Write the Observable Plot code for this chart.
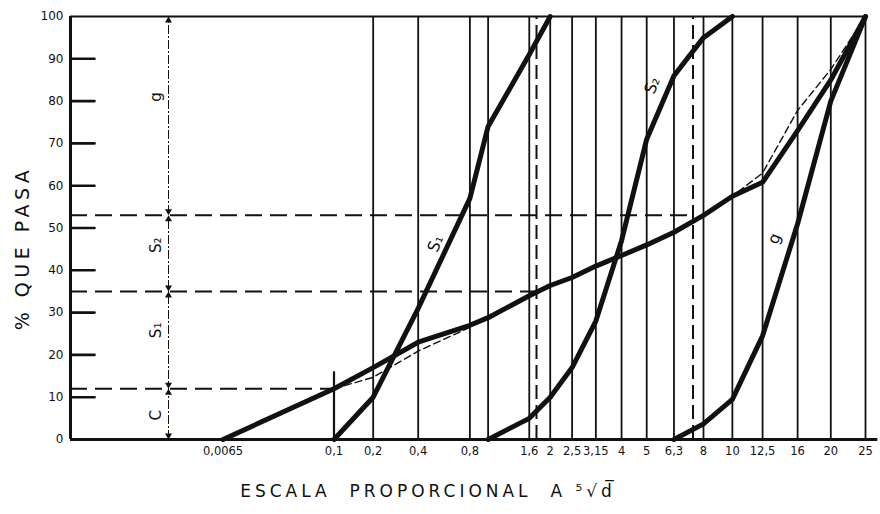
<!DOCTYPE html>
<html><head><meta charset="utf-8">
<script src="https://cdn.jsdelivr.net/npm/d3@7"></script>
<script src="https://cdn.jsdelivr.net/npm/@observablehq/plot@0.6"></script>
<style>
html,body{margin:0;padding:0;background:#fff;}
#chart svg{display:block;}
</style>
</head><body><div id="chart"></div>
<script>
// X ticks (sieve openings, mm) on a fifth-root scale
const tickD = [0.0065, 0.1, 0.2, 0.4, 0.8, 1.6, 2, 2.5, 3.15, 4, 5, 6.3, 8, 10, 12.5, 16, 20, 25];
const tickLabels = ["0,0065","0,1","0,2","0,4","0,8","1,6","2","2,5","3,15","4","5","6,3","8","10","12,5","16","20","25"];
const gridD = [0.2, 0.4, 0.8, 1, 1.6, 2, 2.5, 3.15, 4, 5, 6.3, 8, 10, 12.5, 16, 20, 25];
const shortGridD = [0.1];
const shortGridTop = 16;
const yTicks = [0, 10, 20, 30, 40, 50, 60, 70, 80, 90, 100];
const yInnerTicks = [10, 20, 30, 40, 50, 60, 70, 80, 90];

// Fraction curves (% passing)
const s1D = [0.1, 0.2, 0.4, 0.8, 1, 1.6, 2];
const s1P = [0, 10, 31, 57, 74, 91, 100];
const s2D = [1, 1.6, 2, 2.5, 3.15, 4, 5, 6.3, 8, 10];
const s2P = [0, 5, 10, 17, 28, 47, 71, 86, 95, 100];
const gD = [6.3, 8, 10, 12.5, 16, 20, 25];
const gP = [0, 3.7, 9.5, 24.5, 51, 80, 100];

// Combined (mixture) curve
const mixD = [0.0065, 0.1, 0.2, 0.4, 0.8, 1, 1.6, 2, 2.5, 3.15, 4, 5, 6.3, 8, 10, 12.5, 16, 20, 25];
const mixP = [0, 12, 17, 23, 27, 28.8, 34, 36.4, 38.3, 41, 43.5, 46, 49, 53, 57.5, 60.8, 73, 85, 100];

// Reference (target) curve, thin dashed
const refD = [0.1, 0.2, 0.4, 0.8, 1, 1.6, 2, 2.5, 3.15, 4, 5, 6.3, 8, 10, 12.5, 16, 20, 25];
const refP = [12, 14.7, 20.9, 26.5, 28.8, 34, 36.4, 38.3, 41, 43.5, 46, 49, 53, 57.5, 63, 77.8, 87.5, 100];

// Fraction split
const fracNames = ["C", "S\u2081", "S\u2082", "g"];
const fracBounds = [0, 12, 35, 53, 100];
const fracLabelP = [5.7, 25.8, 45.9, 81];
const cutEndD = [0.1, 1.73, 7.36];   // where each horizontal dashed line stops
const cutVertD = [1.73, 7.36];       // vertical dashed lines

// Curve labels
const curveNames = ["S\u2081", "S\u2082", "g"];
const curveLabelD = [0.51, 5.25, 13.6];
const curveLabelP = [46.3, 83.7, 47.5];

const yTitle = "% QUE PASA";
const xTitle = "ESCALA\u00a0\u00a0PROPORCIONAL\u00a0\u00a0A\u00a0\u2075\u221ad\u0305";

const zip = (D, P) => D.map((d, i) => ({d, p: P[i]}));
const s1 = zip(s1D, s1P), s2 = zip(s2D, s2P), g = zip(gD, gP);
const mix = zip(mixD, mixP), ref = zip(refD, refP);
const hCuts = cutEndD.map((d, i) => ({d, p: fracBounds[i + 1]}));
const fracLabels = fracNames.map((n, i) => ({n, p: fracLabelP[i]}));
const curveLabels = curveNames.map((n, i) => ({n, d: curveLabelD[i], p: curveLabelP[i]}));
const labelOf = new Map(tickD.map((d, i) => [d, tickLabels[i]]));
const tipsDown = fracBounds.slice(0, -1);  // arrow tips pointing down (segment starts)
const tipsUp = fracBounds.slice(1);        // arrow tips pointing up (segment ends)

const tickRight = {draw(context, l) { context.moveTo(0, 0); context.lineTo(l, 0); }};

const ink = "#111";
const chart = Plot.plot({
  width: 880, height: 514,
  marginLeft: 70, marginRight: 15, marginTop: 16, marginBottom: 75,
  style: {fontFamily: "DejaVu Sans, sans-serif", background: "white", color: ink},
  x: {type: "pow", exponent: 0.2, domain: [0, 25]},
  y: {domain: [0, 100]},
  marks: [
    Plot.ruleX(gridD, {y1: 0, y2: 100, stroke: ink, strokeWidth: 1.8}),
    Plot.ruleX(shortGridD, {y1: 0, y2: shortGridTop, stroke: ink, strokeWidth: 2.2}),
    Plot.ruleX(cutVertD, {y1: 0, y2: 100, stroke: ink, strokeWidth: 2, strokeDasharray: "14,6"}),
    Plot.ruleY(hCuts, {y: "p", x1: 0, x2: "d", stroke: ink, strokeWidth: 2, strokeDasharray: "17,8"}),
    Plot.line(ref, {x: "d", y: "p", stroke: ink, strokeWidth: 1.4, strokeDasharray: "7,4"}),
    Plot.line(mix, {x: "d", y: "p", stroke: ink, strokeWidth: 5, strokeLinejoin: "round"}),
    Plot.line(s1, {x: "d", y: "p", stroke: ink, strokeWidth: 5, strokeLinejoin: "round"}),
    Plot.line(s2, {x: "d", y: "p", stroke: ink, strokeWidth: 5, strokeLinejoin: "round"}),
    Plot.line(g, {x: "d", y: "p", stroke: ink, strokeWidth: 5, strokeLinejoin: "round"}),
    Plot.ruleX([0], {y1: 0, y2: 100, stroke: ink, strokeWidth: 3}),
    Plot.ruleY([0], {x1: 0, x2: 27, stroke: ink, strokeWidth: 3}),
    Plot.ruleY([100], {x1: 0, x2: 25, stroke: ink, strokeWidth: 2}),
    Plot.vector(yInnerTicks, {x: 0, y: d => d, length: 24, rotate: 0, anchor: "start", shape: tickRight, stroke: ink, strokeWidth: 2.6}),
    Plot.axisY(yTicks, {tickSize: 0, tickPadding: 7, fontSize: 12, label: null}),
    Plot.axisX(tickD, {tickSize: 0, tickPadding: 7, fontSize: 11.5, label: null, tickFormat: d => labelOf.get(d)}),
    // dimension line with arrowheads
    Plot.ruleX([0], {y1: 0, y2: 100, dx: 98, stroke: ink, strokeWidth: 1, strokeDasharray: "9,2,2,2"}),
    Plot.dot(tipsDown, {x: 0, y: d => d, dx: 98, dy: -4, symbol: "triangle", rotate: 180, r: 2.6, fill: ink, stroke: "none"}),
    Plot.dot(tipsUp, {x: 0, y: d => d, dx: 98, dy: 4, symbol: "triangle", rotate: 0, r: 2.6, fill: ink, stroke: "none"}),
    Plot.text(fracLabels, {x: 0, y: "p", text: "n", dx: 86, rotate: -90, fontSize: 15}),
    Plot.text(curveLabels, {x: "d", y: "p", text: "n", rotate: -68, fontSize: 16}),
    Plot.text([yTitle], {frameAnchor: "left", textAnchor: "middle", dx: -48, dy: 20, rotate: -90, fontSize: 19}),
    Plot.text([xTitle], {frameAnchor: "bottom", textAnchor: "middle", dx: -40, dy: 57, fontSize: 17})
  ]
});
const spacing = new Map([[yTitle, "4.5px"], [xTitle, "4px"]]);
d3.select(chart).selectAll("text").each(function() {
  const s = spacing.get(this.textContent);
  if (s) this.setAttribute("letter-spacing", s);
});
d3.select(chart).selectAll('g[aria-label="y-axis tick-label"] text').attr("letter-spacing", "2px");
document.getElementById("chart").appendChild(chart);
</script>
</body></html>
